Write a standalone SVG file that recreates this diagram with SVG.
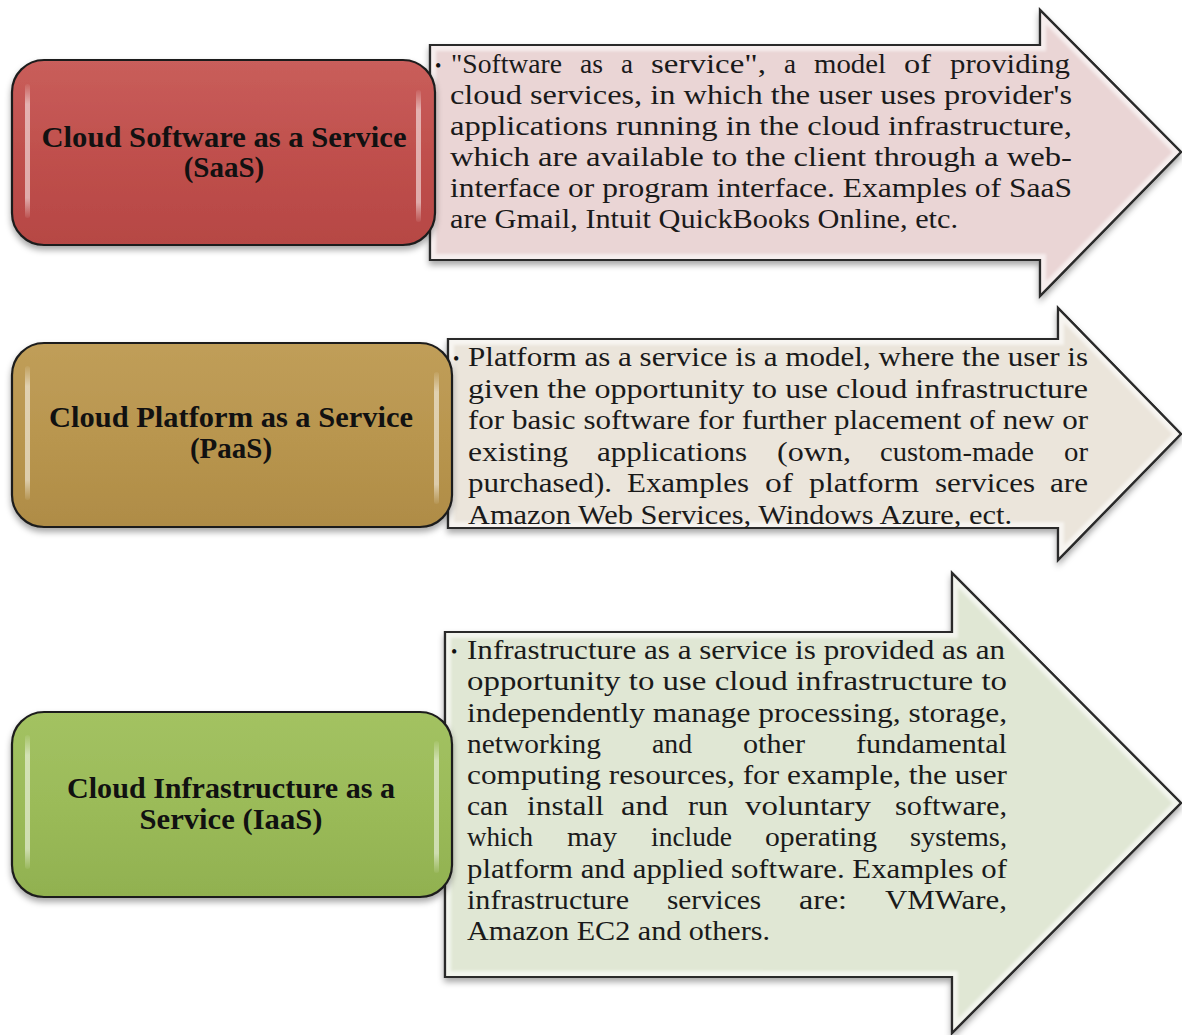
<svg xmlns="http://www.w3.org/2000/svg" width="1182" height="1035" viewBox="0 0 1182 1035">
<style>
.box{stroke:#1e1e1e;stroke-width:2.2}
.arr{stroke:#2a2a2a;stroke-width:2.2;stroke-linejoin:miter}
.lbl{font-family:"Liberation Serif","Times New Roman",serif;font-weight:bold;font-size:29px;fill:#111;text-anchor:middle}
.txt{font-family:"Liberation Serif","Times New Roman",serif;font-size:28px;fill:#1a1a1a}
.bul{font-family:"Liberation Serif","Times New Roman",serif;font-size:18px;fill:#111}
.hl{opacity:0.6}
</style>
<defs>
<filter id="sh" x="-10%" y="-10%" width="120%" height="130%">
<feDropShadow dx="0" dy="4" stdDeviation="3" flood-color="#000" flood-opacity="0.35"/>
</filter>
<filter id="soft" x="-5%" y="-5%" width="110%" height="110%">
<feGaussianBlur stdDeviation="1.5"/>
</filter>
<linearGradient id="gRed" x1="0" y1="0" x2="0" y2="1">
<stop offset="0" stop-color="#C95E5B"/><stop offset="0.5" stop-color="#C0504D"/><stop offset="1" stop-color="#B64744"/>
</linearGradient>
<linearGradient id="gTan" x1="0" y1="0" x2="0" y2="1">
<stop offset="0" stop-color="#C09E59"/><stop offset="0.5" stop-color="#B9964F"/><stop offset="1" stop-color="#AF8C46"/>
</linearGradient>
<linearGradient id="gGrn" x1="0" y1="0" x2="0" y2="1">
<stop offset="0" stop-color="#A3C262"/><stop offset="0.5" stop-color="#9BBB59"/><stop offset="1" stop-color="#91B150"/>
</linearGradient>
<linearGradient id="gHl" x1="0" y1="0" x2="0" y2="1">
<stop offset="0" stop-color="#fff" stop-opacity="0.1"/><stop offset="0.15" stop-color="#fff" stop-opacity="0.9"/><stop offset="0.85" stop-color="#fff" stop-opacity="0.9"/><stop offset="1" stop-color="#fff" stop-opacity="0.1"/>
</linearGradient>
<clipPath id="c1"><polygon points="430,45 1040,45 1040,10 1181,152 1040,296 1040,260 430,260"/></clipPath>
<clipPath id="c2"><polygon points="448,339 1058,339 1058,308 1181,434 1058,560 1058,528 448,528"/></clipPath>
<clipPath id="c3"><polygon points="445,632 952,632 952,573 1181,803 952,1033 952,977 445,977"/></clipPath>
</defs>
<rect width="1182" height="1035" fill="#ffffff"/>

<g id="connectors"></g>

<g id="arrow-saas">
<polygon class="arr" fill="#EAD5D5" points="430,45 1040,45 1040,10 1181,152 1040,296 1040,260 430,260" filter="url(#sh)"/>
<g clip-path="url(#c1)"><polygon points="430,45 1040,45 1040,10 1181,152 1040,296 1040,260 430,260" fill="none" stroke="#fff" stroke-width="12" opacity="0.6" filter="url(#soft)"/></g>
<polygon class="arr" fill="none" points="430,45 1040,45 1040,10 1181,152 1040,296 1040,260 430,260"/>
<text class="bul" x="435" y="72">•</text>
<g class="txt">
<text x="451" y="73" textLength="111" lengthAdjust="spacingAndGlyphs">"Software</text>
<text x="580" y="73" textLength="23" lengthAdjust="spacingAndGlyphs">as</text>
<text x="621" y="73" textLength="12" lengthAdjust="spacingAndGlyphs">a</text>
<text x="651" y="73" textLength="115" lengthAdjust="spacingAndGlyphs">service",</text>
<text x="784" y="73" textLength="12" lengthAdjust="spacingAndGlyphs">a</text>
<text x="814" y="73" textLength="72" lengthAdjust="spacingAndGlyphs">model</text>
<text x="904" y="73" textLength="27" lengthAdjust="spacingAndGlyphs">of</text>
<text x="950" y="73" textLength="120" lengthAdjust="spacingAndGlyphs">providing</text>
</g>
<text class="txt" x="450" y="104" textLength="622" lengthAdjust="spacingAndGlyphs">cloud services, in which the user uses provider's</text>
<text class="txt" x="450" y="135" textLength="622" lengthAdjust="spacingAndGlyphs">applications running in the cloud infrastructure,</text>
<text class="txt" x="450" y="166" textLength="622" lengthAdjust="spacingAndGlyphs">which are available to the client through a web-</text>
<text class="txt" x="450" y="197" textLength="622" lengthAdjust="spacingAndGlyphs">interface or program interface. Examples of SaaS</text>
<text class="txt" x="450" y="228" textLength="508" lengthAdjust="spacingAndGlyphs">are Gmail, Intuit QuickBooks Online, etc.</text>
</g>

<g id="arrow-paas">
<polygon class="arr" fill="#EBE5DB" points="448,339 1058,339 1058,308 1181,434 1058,560 1058,528 448,528" filter="url(#sh)"/>
<g clip-path="url(#c2)"><polygon points="448,339 1058,339 1058,308 1181,434 1058,560 1058,528 448,528" fill="none" stroke="#fff" stroke-width="12" opacity="0.6" filter="url(#soft)"/></g>
<polygon class="arr" fill="none" points="448,339 1058,339 1058,308 1181,434 1058,560 1058,528 448,528"/>
<text class="bul" x="453" y="365">•</text>
<text class="txt" x="468" y="366" textLength="620" lengthAdjust="spacingAndGlyphs">Platform as a service is a model, where the user is</text>
<text class="txt" x="468" y="398" textLength="620" lengthAdjust="spacingAndGlyphs">given the opportunity to use cloud infrastructure</text>
<text class="txt" x="468" y="429" textLength="620" lengthAdjust="spacingAndGlyphs">for basic software for further placement of new or</text>
<g class="txt">
<text x="468" y="461" textLength="100" lengthAdjust="spacingAndGlyphs">existing</text>
<text x="597" y="461" textLength="150" lengthAdjust="spacingAndGlyphs">applications</text>
<text x="777" y="461" textLength="74" lengthAdjust="spacingAndGlyphs">(own,</text>
<text x="880" y="461" textLength="154" lengthAdjust="spacingAndGlyphs">custom-made</text>
<text x="1064" y="461" textLength="24" lengthAdjust="spacingAndGlyphs">or</text>
</g>
<g class="txt">
<text x="468" y="492" textLength="144" lengthAdjust="spacingAndGlyphs">purchased).</text>
<text x="627" y="492" textLength="122" lengthAdjust="spacingAndGlyphs">Examples</text>
<text x="765" y="492" textLength="28" lengthAdjust="spacingAndGlyphs">of</text>
<text x="809" y="492" textLength="110" lengthAdjust="spacingAndGlyphs">platform</text>
<text x="935" y="492" textLength="100" lengthAdjust="spacingAndGlyphs">services</text>
<text x="1050" y="492" textLength="38" lengthAdjust="spacingAndGlyphs">are</text>
</g>
<text class="txt" x="468" y="524" textLength="544" lengthAdjust="spacingAndGlyphs">Amazon Web Services,  Windows Azure, ect.</text>
</g>

<g id="arrow-iaas">
<polygon class="arr" fill="#E0E7D4" points="445,632 952,632 952,573 1181,803 952,1033 952,977 445,977" filter="url(#sh)"/>
<g clip-path="url(#c3)"><polygon points="445,632 952,632 952,573 1181,803 952,1033 952,977 445,977" fill="none" stroke="#fff" stroke-width="12" opacity="0.6" filter="url(#soft)"/></g>
<polygon class="arr" fill="none" points="445,632 952,632 952,573 1181,803 952,1033 952,977 445,977"/>
<text class="bul" x="451" y="658">•</text>
<text class="txt" x="467" y="659" textLength="538" lengthAdjust="spacingAndGlyphs">Infrastructure as a service is provided as an</text>
<text class="txt" x="467" y="690" textLength="540" lengthAdjust="spacingAndGlyphs">opportunity to use cloud infrastructure to</text>
<text class="txt" x="467" y="722" textLength="540" lengthAdjust="spacingAndGlyphs">independently manage processing, storage,</text>
<g class="txt">
<text x="467" y="753" textLength="134" lengthAdjust="spacingAndGlyphs">networking</text>
<text x="652" y="753" textLength="40" lengthAdjust="spacingAndGlyphs">and</text>
<text x="743" y="753" textLength="62" lengthAdjust="spacingAndGlyphs">other</text>
<text x="856" y="753" textLength="151" lengthAdjust="spacingAndGlyphs">fundamental</text>
</g>
<text class="txt" x="467" y="784" textLength="540" lengthAdjust="spacingAndGlyphs">computing resources, for example, the user</text>
<g class="txt">
<text x="467" y="815" textLength="41" lengthAdjust="spacingAndGlyphs">can</text>
<text x="527" y="815" textLength="77" lengthAdjust="spacingAndGlyphs">install</text>
<text x="621" y="815" textLength="47" lengthAdjust="spacingAndGlyphs">and</text>
<text x="688" y="815" textLength="40" lengthAdjust="spacingAndGlyphs">run</text>
<text x="745" y="815" textLength="126" lengthAdjust="spacingAndGlyphs">voluntary</text>
<text x="895" y="815" textLength="112" lengthAdjust="spacingAndGlyphs">software,</text>
</g>
<g class="txt">
<text x="467" y="846" textLength="66" lengthAdjust="spacingAndGlyphs">which</text>
<text x="567" y="846" textLength="50" lengthAdjust="spacingAndGlyphs">may</text>
<text x="651" y="846" textLength="81" lengthAdjust="spacingAndGlyphs">include</text>
<text x="765" y="846" textLength="112" lengthAdjust="spacingAndGlyphs">operating</text>
<text x="910" y="846" textLength="97" lengthAdjust="spacingAndGlyphs">systems,</text>
</g>
<text class="txt" x="467" y="878" textLength="540" lengthAdjust="spacingAndGlyphs">platform and applied software. Examples of</text>
<g class="txt">
<text x="467" y="909" textLength="162" lengthAdjust="spacingAndGlyphs">infrastructure</text>
<text x="667" y="909" textLength="94" lengthAdjust="spacingAndGlyphs">services</text>
<text x="799" y="909" textLength="48" lengthAdjust="spacingAndGlyphs">are:</text>
<text x="885" y="909" textLength="122" lengthAdjust="spacingAndGlyphs">VMWare,</text>
</g>
<text class="txt" x="467" y="940" textLength="303" lengthAdjust="spacingAndGlyphs">Amazon EC2 and others.</text>
</g>

<g id="box-saas">
<rect class="box" x="12" y="60" width="423" height="185" rx="32" fill="url(#gRed)" filter="url(#sh)"/>
<rect class="hl" x="25" y="84" width="5" height="134" rx="2.5" fill="url(#gHl)"/>
<rect class="hl" x="416" y="90" width="5" height="132" rx="2.5" fill="url(#gHl)"/>
<text class="lbl" x="224" y="147" textLength="365" lengthAdjust="spacingAndGlyphs">Cloud Software as a Service</text>
<text class="lbl" x="224" y="177">(SaaS)</text>
</g>

<g id="box-paas">
<rect class="box" x="12" y="343" width="440" height="184" rx="32" fill="url(#gTan)" filter="url(#sh)"/>
<rect class="hl" x="25" y="366" width="5" height="134" rx="2.5" fill="url(#gHl)"/>
<rect class="hl" x="434" y="372" width="5" height="132" rx="2.5" fill="url(#gHl)"/>
<text class="lbl" x="231" y="427" textLength="364" lengthAdjust="spacingAndGlyphs">Cloud Platform as a Service</text>
<text class="lbl" x="231" y="458">(PaaS)</text>
</g>

<g id="box-iaas">
<rect class="box" x="12" y="712" width="440" height="185" rx="32" fill="url(#gGrn)" filter="url(#sh)"/>
<rect class="hl" x="25" y="735" width="5" height="134" rx="2.5" fill="url(#gHl)"/>
<rect class="hl" x="434" y="741" width="5" height="132" rx="2.5" fill="url(#gHl)"/>
<text class="lbl" x="231" y="798" textLength="328" lengthAdjust="spacingAndGlyphs">Cloud Infrastructure as a</text>
<text class="lbl" x="231" y="829" textLength="183" lengthAdjust="spacingAndGlyphs">Service (IaaS)</text>
</g>
</svg>
